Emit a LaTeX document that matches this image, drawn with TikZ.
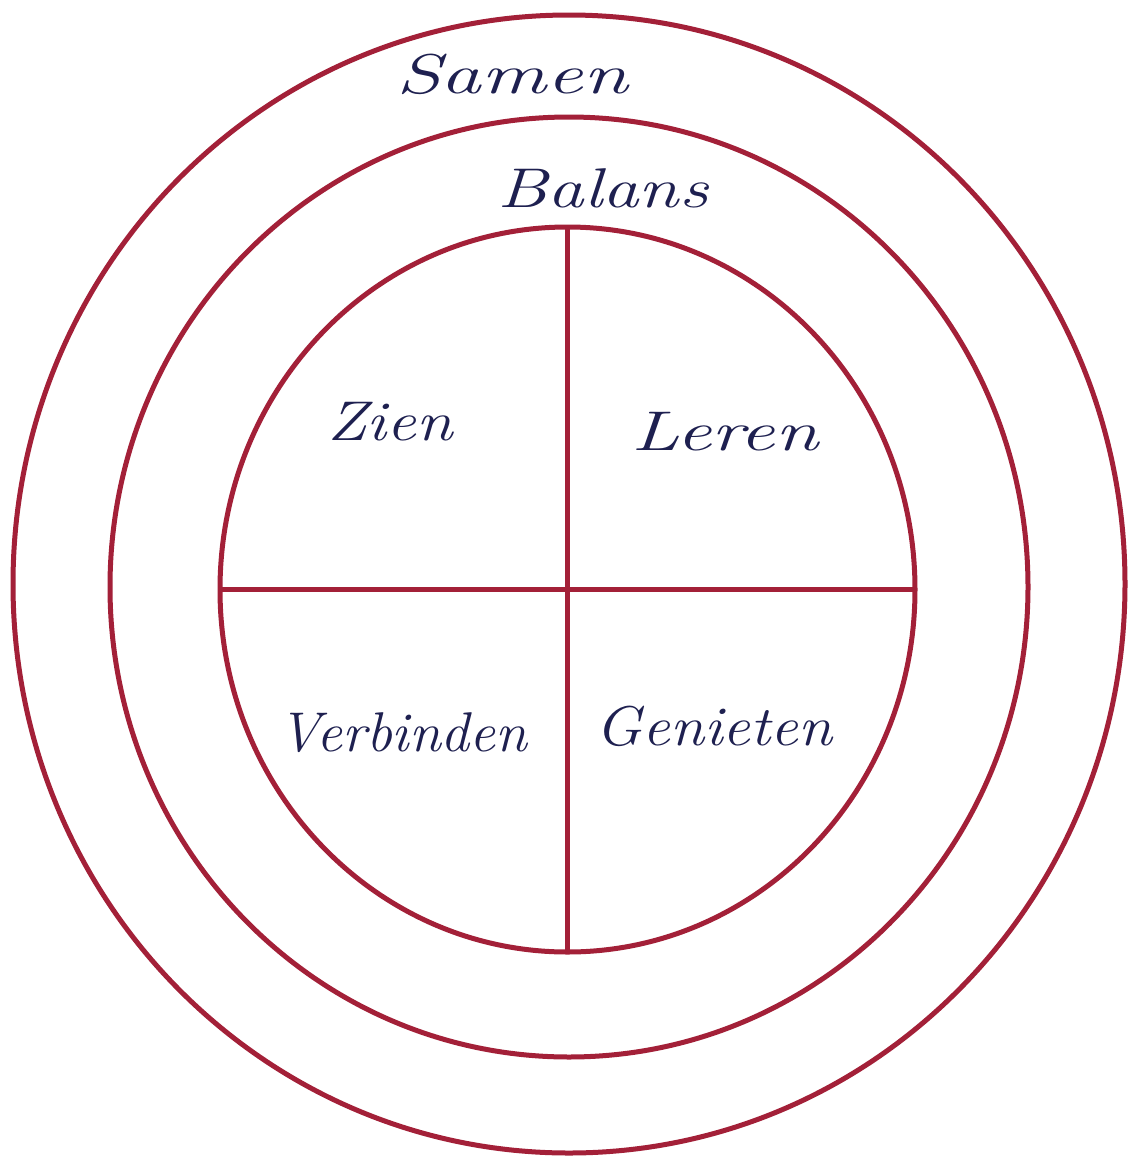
\documentclass[tikz,border=0pt]{standalone}
\usetikzlibrary{shapes.geometric}
\definecolor{ringred}{RGB}{163,32,56}
\definecolor{inkblue}{RGB}{30,32,80}
\begin{document}
\begin{tikzpicture}[x=1pt,y=-1pt,
  ring/.style={ellipse,draw=ringred,line width=5pt,inner sep=0pt,outer sep=0pt},
  divider/.style={draw=ringred,line width=5pt},
  word/.style={text=inkblue,inner sep=0pt,font=\fontsize{56}{60}\selectfont\itshape}]
\fill[white] (0,0) rectangle (1128,1157);
\useasboundingbox (0,0) rectangle (1128,1157);
\node[ring,minimum width=1112pt,minimum height=1138pt] (outer) at (569,584) {};
\node[ring,minimum width=918pt,minimum height=940pt] (middle) at (569,587) {};
\node[ring,minimum width=695pt,minimum height=725pt] (inner) at (567.5,589.5) {};
\draw[divider] (inner.north) -- (inner.south);
\draw[divider] (inner.west) -- (inner.east);
\node[word] (samen) at (512,74) {\scalebox{1.45}[1]{Samen}};
\node[word] (balans) at (603,188) {\scalebox{1.3}[1]{Balans}};
\node[word] (zien) at (390,422) {\scalebox{1.18}[1]{Zien}};
\node[word] (leren) at (725,432) {\scalebox{1.4}[1]{Leren}};
\node[word] (verbinden) at (403,733) {\scalebox{1.03}[1]{Verbinden}};
\node[word] (genieten) at (714,726) {\scalebox{1.1}[1]{Genieten}};
\end{tikzpicture}
\end{document}
